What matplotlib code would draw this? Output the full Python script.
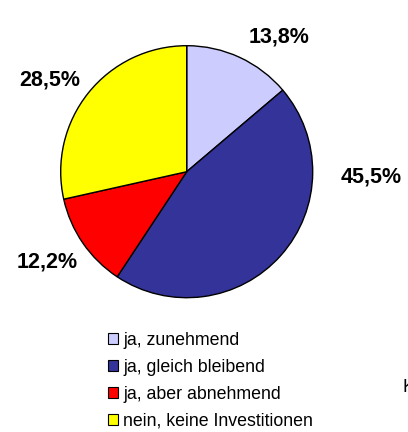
import matplotlib
matplotlib.use("Agg")
import matplotlib.pyplot as plt
from matplotlib.patches import Patch

plt.rcParams['font.family'] = ['Liberation Sans', 'DejaVu Sans']

categories = ["ja, zunehmend", "ja, gleich bleibend", "ja, aber abnehmend", "nein, keine Investitionen"]
values = [13.8, 45.5, 12.2, 28.5]
value_labels = ["13,8%", "45,5%", "12,2%", "28,5%"]
colors = ["#CCCCFF", "#333399", "#FF0000", "#FFFF00"]

W, H = 408, 432
fig = plt.figure(figsize=(W / 100, H / 100), dpi=100)

cx, cy, r = 186.7, 171.7, 126.0
ax = fig.add_axes([(cx - r) / W, (H - cy - r) / H, 2 * r / W, 2 * r / H])
ax.pie(values, colors=colors, startangle=90, counterclock=False,
       wedgeprops=dict(edgecolor="black", linewidth=1.0))
ax.set_xlim(-1, 1)
ax.set_ylim(-1, 1)
ax.set_aspect("equal")
ax.axis("off")

label_pos = [(279, 37), (371, 177), (47, 262), (50, 80)]
for (x, y), t in zip(label_pos, value_labels):
    fig.text(x / W, 1 - y / H, t, ha="center", va="center",
             fontsize=15.5, fontweight="bold", color="black")

handles = [Patch(facecolor=c, edgecolor="black", linewidth=0.8) for c in colors]
fig.legend(handles, categories, loc="upper left",
           bbox_to_anchor=(108 / W, 1 - 332 / H), frameon=False,
           fontsize=12.8, handlelength=0.55, handleheight=0.55,
           handletextpad=0.3, labelspacing=0.56, borderaxespad=0, borderpad=0)

fig.text(403 / W, 1 - 387 / H, "K", ha="left", va="center", fontsize=13, color="black")

fig.savefig("out.png", dpi=100, facecolor="white")
